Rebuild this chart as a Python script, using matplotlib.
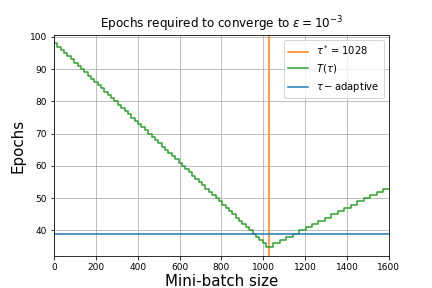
import numpy as np
import matplotlib
matplotlib.use("Agg")
import matplotlib.pyplot as plt

# points where T(tau) changes value (steps-post)
tau_steps = [0, 16, 32, 48, 64, 80, 96, 113, 129, 145, 161, 177, 193, 209, 225,
             241, 257, 273, 289, 306, 322, 338, 354, 370, 386, 402, 418, 434, 450,
             466, 482, 498, 515, 531, 547, 563, 579, 595, 611, 627, 643, 659, 675,
             691, 708, 724, 740, 756, 772, 788, 804, 820, 836, 852, 868, 884, 900,
             917, 933, 949, 965, 981, 997, 1013,
             1048, 1079, 1110, 1141, 1172, 1203, 1233, 1264, 1295, 1326, 1357,
             1388, 1419, 1450, 1481, 1512, 1543, 1574, 1600]
epochs = [98, 97, 96, 95, 94, 93, 92, 91, 90, 89, 88, 87, 86, 85, 84,
          83, 82, 81, 80, 79, 78, 77, 76, 75, 74, 73, 72, 71, 70,
          69, 68, 67, 66, 65, 64, 63, 62, 61, 60, 59, 58, 57, 56,
          55, 54, 53, 52, 51, 50, 49, 48, 47, 46, 45, 44, 43, 42,
          41, 40, 39, 38, 37, 36, 35,
          36, 37, 38, 39, 40, 41, 42, 43, 44, 45, 46,
          47, 48, 49, 50, 51, 52, 53, 53]

tau_star = 1028
adaptive_epochs = 39

plt.figure(figsize=(6, 4), dpi=72)
plt.axvline(tau_star, color='tab:orange', label=r'$\tau^*=1028$')
plt.plot(tau_steps, epochs, drawstyle='steps-post', color='tab:green', label=r'$T(\tau)$')
plt.axhline(adaptive_epochs, color='tab:blue', label=r'$\tau-$adaptive')

plt.xlim(0, 1600)
plt.ylim(32, 100.7)
plt.tick_params(labelsize=9)
plt.xlabel('Mini-batch size', fontsize=15, labelpad=2)
plt.ylabel('Epochs', fontsize=15)
plt.title(r'Epochs required to converge to $\varepsilon=10^{-3}$')
plt.legend()
plt.grid(True)

plt.savefig('out.png', dpi=72)
